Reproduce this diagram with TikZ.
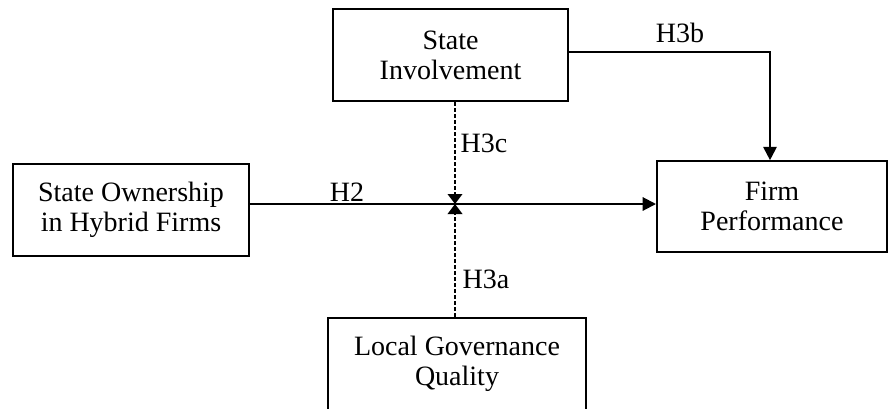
\documentclass[tikz,border=0pt]{standalone}
\usepackage{fontspec}
\setmainfont{Liberation Serif}
\usetikzlibrary{arrows.meta}

\tikzset{every picture/.style={line width=0.75pt}}
\tikzset{
  varbox/.style={draw, line width=1.5pt, align=center, inner sep=0pt, font=\fontsize{21}{22.5}\selectfont},
  hyplabel/.style={inner sep=0.75pt, font=\fontsize{21}{22.5}\selectfont},
  mainarrow/.style={line width=1.5pt, -{Triangle[length=10pt,width=10pt]}},
  modarrow/.style={line width=1.1pt, dash pattern={on 3pt off 1.5pt}, -{Triangle[length=7.5pt,width=11pt]}}
}

\begin{document}
\begin{tikzpicture}[x=0.75pt,y=0.75pt,yscale=-1,xscale=1]
\useasboundingbox (0,0) rectangle (888,408);

%Shape: Rectangle [id:own]
\node [varbox, minimum width=177pt, minimum height=69pt] (own) at (131,210) {State Ownership\\in Hybrid Firms};
%Shape: Rectangle [id:inv]
\node [varbox, minimum width=176pt, minimum height=69pt] (inv) at (450.5,55) {State\\Involvement};
%Shape: Rectangle [id:perf]
\node [varbox, minimum width=172.5pt, minimum height=68pt] (perf) at (772,206.5) {Firm\\Performance};
%Shape: Rectangle [id:gov]
\node [varbox, minimum width=193.5pt, minimum height=69pt] (gov) at (457,364) {Local Governance\\Quality};

\coordinate (cross) at (455,204);
\coordinate (bend) at (770,52);

%Straight Lines [id:main]
\draw [mainarrow] (own.east |- cross) -- (perf.west |- cross);
%Straight Lines [id:h3c]
\draw [modarrow] (inv.south -| cross) -- (cross);
%Straight Lines [id:h3a]
\draw [modarrow] (gov.north -| cross) -- (cross);
%Straight Lines [id:h3b]
\draw [mainarrow] (inv.east |- bend) -- (bend) -- (perf.north -| bend);

% Text Node
\node [hyplabel] (h2) at (347,192) {H2};
% Text Node
\node [hyplabel] (h3c) at (484,143) {H3c};
% Text Node
\node [hyplabel] (h3a) at (486,279) {H3a};
% Text Node
\node [hyplabel] (h3b) at (680,33) {H3b};

\end{tikzpicture}
\end{document}
